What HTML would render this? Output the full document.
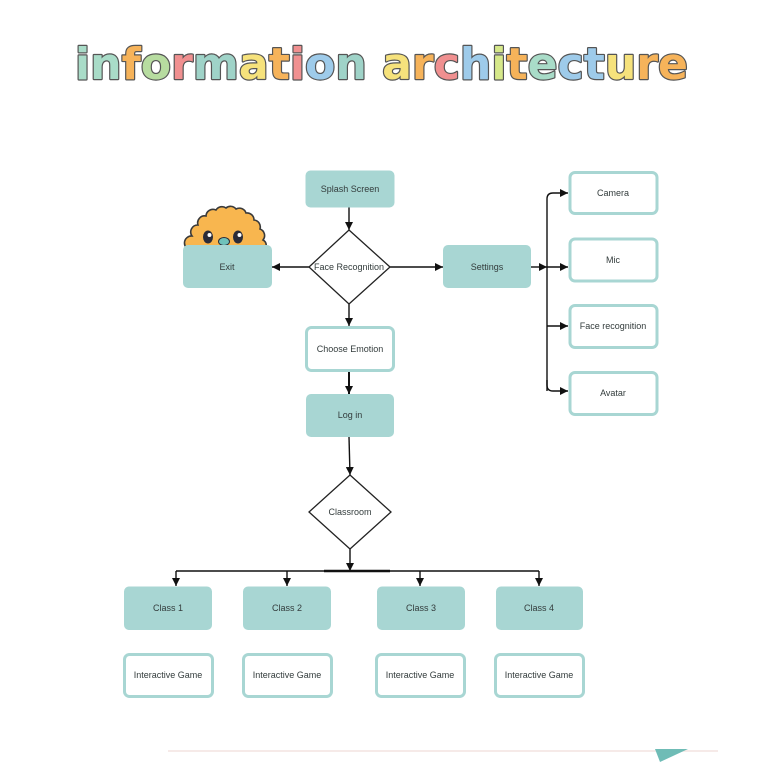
<!DOCTYPE html>
<html>
<head>
<meta charset="utf-8">
<style>
  html, body { margin: 0; padding: 0; background: #ffffff; }
  body { width: 768px; height: 768px; overflow: hidden; }
  svg { display: block; }
  .lbl { font-family: "Liberation Sans", "DejaVu Sans", sans-serif; font-size: 9px; fill: #333c3c; text-anchor: middle; dominant-baseline: central; }
</style>
</head>
<body>
<svg width="768" height="768" viewBox="0 0 768 768" xmlns="http://www.w3.org/2000/svg">
  <defs>
    <marker id="ah" markerUnits="userSpaceOnUse" markerWidth="9" markerHeight="8" refX="8" refY="4" orient="auto">
      <path d="M0,0 L8,4 L0,8 z" fill="#111"/>
    </marker>
  </defs>

  <!-- Title -->
  <text x="75" y="79" textLength="613" lengthAdjust="spacingAndGlyphs"
        font-family="DejaVu Sans, Liberation Sans, sans-serif" font-weight="bold" font-size="44"
        stroke="#555" stroke-width="2.4" stroke-linejoin="round" paint-order="stroke">
    <tspan fill="#a9dcc8">i</tspan><tspan fill="#a9dcc8">n</tspan><tspan fill="#f6b35a">f</tspan><tspan fill="#b7dca0">o</tspan><tspan fill="#f09090">r</tspan><tspan fill="#9fd3c8">m</tspan><tspan fill="#f6e27c">a</tspan><tspan fill="#f6b35a">t</tspan><tspan fill="#f09090">i</tspan><tspan fill="#9ecbea">o</tspan><tspan fill="#9fd3c8">n</tspan><tspan> </tspan><tspan fill="#f6e27c">a</tspan><tspan fill="#f6b35a">r</tspan><tspan fill="#f09090">c</tspan><tspan fill="#9ecbea">h</tspan><tspan fill="#d6e88a">i</tspan><tspan fill="#f6b35a">t</tspan><tspan fill="#a9dcc8">e</tspan><tspan fill="#9ecbea">c</tspan><tspan fill="#9ecbea">t</tspan><tspan fill="#f6e27c">u</tspan><tspan fill="#f6b35a">r</tspan><tspan fill="#f6b35a">e</tspan>
  </text>

  <!-- Mascot -->
  <path d="M191,250 A7,7 0 0 1 192,236 A7,7 0 0 1 198,225 A7,7 0 0 1 206,216 A7,7 0 0 1 216,210 A7,7 0 0 1 226,208 A7,7 0 0 1 236,209 A7,7 0 0 1 246,213 A7,7 0 0 1 254,220 A7,7 0 0 1 260,229 A7,7 0 0 1 263,240 A6,6 0 0 1 264,250 Z"
        fill="#f8b64f" stroke="#3a3a3a" stroke-width="1.6"/>
  <ellipse cx="208" cy="237" rx="5" ry="6.5" fill="#2b2b38"/>
  <circle cx="209.5" cy="235" r="2" fill="#fff"/>
  <ellipse cx="238" cy="237" rx="5" ry="6.5" fill="#2b2b38"/>
  <circle cx="239.5" cy="235" r="2" fill="#fff"/>
  <ellipse cx="224" cy="241.5" rx="5.5" ry="4" fill="#6fc2ba" stroke="#2b2b38" stroke-width="1"/>

  <!-- Connectors -->
  <g stroke="#111" stroke-width="1.4" fill="none">
    <line x1="349" y1="207" x2="349" y2="230" marker-end="url(#ah)"/>
    <line x1="309" y1="267" x2="272" y2="267" marker-end="url(#ah)"/>
    <line x1="390" y1="267" x2="443" y2="267" marker-end="url(#ah)"/>
    <line x1="349" y1="304" x2="349" y2="326" marker-end="url(#ah)"/>
    <line x1="349" y1="371" x2="349" y2="394" stroke-width="2" marker-end="url(#ah)"/>
    <line x1="349" y1="437" x2="350" y2="475" marker-end="url(#ah)"/>
    <line x1="350" y1="548" x2="350" y2="571" marker-end="url(#ah)"/>

    <!-- settings bus -->
    <line x1="531" y1="267" x2="547" y2="267" marker-end="url(#ah)"/>
    <path d="M547,391 L547,199 Q547,193 553,193 L568,193" marker-end="url(#ah)"/>
    <line x1="547" y1="267" x2="568" y2="267" marker-end="url(#ah)"/>
    <line x1="547" y1="326" x2="568" y2="326" marker-end="url(#ah)"/>
    <path d="M547,380 L547,385 Q547,391 553,391 L568,391" marker-end="url(#ah)"/>

    <!-- classroom bus -->
    <line x1="176" y1="571" x2="539" y2="571"/>
    <line x1="324" y1="571" x2="390" y2="571" stroke-width="2.6"/>
    <line x1="176" y1="571" x2="176" y2="586" marker-end="url(#ah)"/>
    <line x1="287" y1="571" x2="287" y2="586" marker-end="url(#ah)"/>
    <line x1="420" y1="571" x2="420" y2="586" marker-end="url(#ah)"/>
    <line x1="539" y1="571" x2="539" y2="586" marker-end="url(#ah)"/>
  </g>

  <!-- Filled teal boxes -->
  <g fill="#a8d6d3">
    <rect x="305.5" y="170.5" width="89" height="37" rx="5"/>
    <rect x="183" y="245" width="89" height="43" rx="5"/>
    <rect x="443" y="245" width="88" height="43" rx="5"/>
    <rect x="306" y="394" width="88" height="43" rx="5"/>
    <rect x="124" y="586.5" width="88" height="43.5" rx="5"/>
    <rect x="243" y="586.5" width="88" height="43.5" rx="5"/>
    <rect x="377" y="586.5" width="88" height="43.5" rx="5"/>
    <rect x="496" y="586.5" width="87" height="43.5" rx="5"/>
  </g>

  <!-- Outlined boxes -->
  <g fill="#fff" stroke="#a8d6d3" stroke-width="3">
    <rect x="570" y="172.5" width="87" height="41" rx="5"/>
    <rect x="570" y="239" width="87" height="42" rx="5"/>
    <rect x="570" y="305.5" width="87" height="42" rx="5"/>
    <rect x="570" y="372.5" width="87" height="42" rx="5"/>
    <rect x="306.5" y="327.5" width="87" height="43" rx="5"/>
    <rect x="124.5" y="654.5" width="88" height="42" rx="5"/>
    <rect x="243.5" y="654.5" width="88" height="42" rx="5"/>
    <rect x="376.5" y="654.5" width="88" height="42" rx="5"/>
    <rect x="495.5" y="654.5" width="88" height="42" rx="5"/>
  </g>

  <!-- Diamonds -->
  <g fill="#fff" stroke="#222" stroke-width="1.3">
    <polygon points="349,230 390,267 349,304 309,267"/>
    <polygon points="350,475 391,512 350,549 309,512"/>
  </g>

  <!-- Labels -->
  <text class="lbl" x="350" y="189">Splash Screen</text>
  <text class="lbl" x="349" y="267">Face Recognition</text>
  <text class="lbl" x="227" y="267">Exit</text>
  <text class="lbl" x="487" y="267">Settings</text>
  <text class="lbl" x="613" y="193">Camera</text>
  <text class="lbl" x="613" y="260">Mic</text>
  <text class="lbl" x="613" y="326">Face recognition</text>
  <text class="lbl" x="613" y="393">Avatar</text>
  <text class="lbl" x="350" y="349">Choose Emotion</text>
  <text class="lbl" x="350" y="415">Log in</text>
  <text class="lbl" x="350" y="512">Classroom</text>
  <text class="lbl" x="168" y="608">Class 1</text>
  <text class="lbl" x="287" y="608">Class 2</text>
  <text class="lbl" x="421" y="608">Class 3</text>
  <text class="lbl" x="539" y="608">Class 4</text>
  <text class="lbl" x="168" y="675">Interactive Game</text>
  <text class="lbl" x="287" y="675">Interactive Game</text>
  <text class="lbl" x="420" y="675">Interactive Game</text>
  <text class="lbl" x="539" y="675">Interactive Game</text>

  <!-- Bottom faint line and triangle -->
  <line x1="168" y1="751" x2="718" y2="751" stroke="#f3e4e0" stroke-width="1.5"/>
  <polygon points="655,749 688,749 660,762" fill="#6fbcb6"/>
</svg>
</body>
</html>
